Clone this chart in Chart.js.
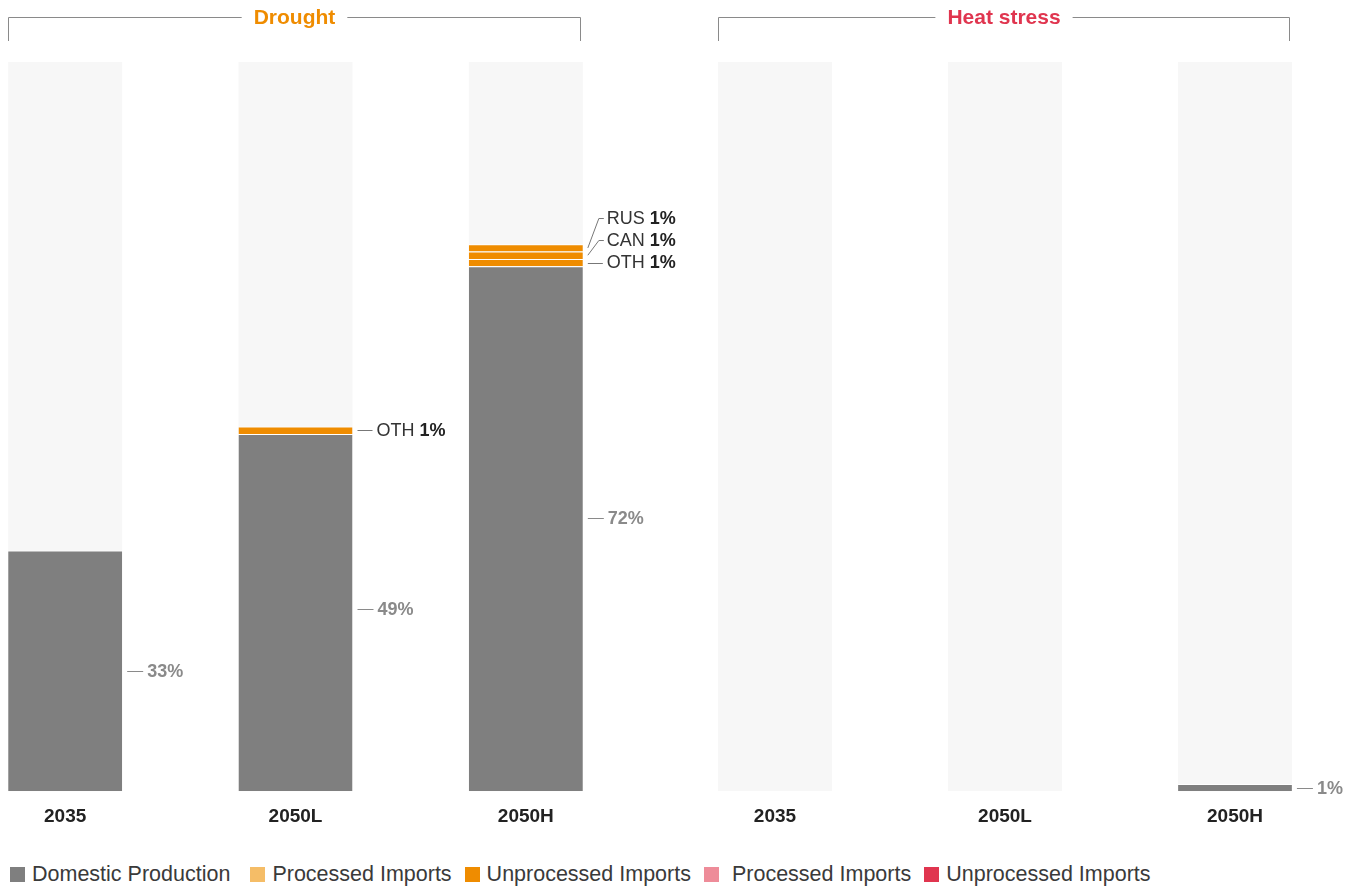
<!DOCTYPE html>
<html>
<head>
<meta charset="utf-8">
<title>Import shares</title>
<script src="https://cdn.jsdelivr.net/npm/chart.js@4.4.0/dist/chart.umd.min.js"></script>
<style>
  body {
    margin: 0;
    background: #fff;
    width: 1362px;
    height: 886px;
    overflow: hidden;
    position: relative;
    font-family: "Liberation Sans", Arial, sans-serif;
  }
  .chart-box { position: absolute; top: 0; height: 854px; }
  #drought-box { left: -50px; width: 751px; }
  #heat-box { left: 660px; width: 702px; }
  .legend {
    position: absolute;
    left: 10px;
    top: 862px;
    display: flex;
    font-size: 21.5px;
    color: #3a3a3a;
    white-space: nowrap;
  }
  .legend .item { display: flex; align-items: center; margin-right: 13px; }
  .legend .item:first-child { margin-right: 20px; }
  .legend i { display: inline-block; width: 15px; height: 15px; margin-right: 7px; }
  .legend .item:nth-child(4) i { margin-right: 13px; }
</style>
</head>
<body>
<div class="chart-box" id="drought-box"><canvas id="drought"></canvas></div>
<div class="chart-box" id="heat-box"><canvas id="heat"></canvas></div>
<div class="legend" id="legend"></div>

<script>
/* eslint no-undef: "error" */
/*global Chart */

// DATA (shares of supply, %)

const categories = ['2035', '2050L', '2050H'];
const fullShare = [100, 100, 100];

const droughtDomestic = [33, 49, 72];
const droughtProcessed = [0, 0, 0];
const droughtUnprocOTH = [0, 1, 1];
const droughtUnprocCAN = [0, 0, 1];
const droughtUnprocRUS = [0, 0, 1];

const heatDomestic = [0, 0, 1];
const heatProcessed = [0, 0, 0];
const heatUnprocessed = [0, 0, 0];

// COLOURS

const GREY = '#7f7f7f';
const TRACK = '#f7f7f7';
const DROUGHT_LIGHT = '#f5bd67';
const DROUGHT_DARK = '#ef8c00';
const HEAT_LIGHT = '#ee8c99';
const HEAT_DARK = '#e0354f';

Chart.defaults.font.family = '"Liberation Sans", Arial, sans-serif';

// PLUGINS

// bracket with the scenario name above each group of bars
const groupBracket = {
  id: 'groupBracket',
  afterDraw(chart, args, opts) {
    const ctx = chart.ctx;
    const bars = chart.getDatasetMeta(0).data;
    const first = bars[0];
    const last = bars[bars.length - 1];
    const x0 = Math.round(first.x - first.width / 2) + 0.5;
    const x1 = Math.round(last.x + last.width / 2) - 2.5;
    const y = 17.5;
    const mid = (x0 + x1) / 2;

    ctx.save();
    ctx.font = 'bold 21px "Liberation Sans", Arial, sans-serif';
    const w = ctx.measureText(opts.title).width;
    ctx.strokeStyle = '#8a8a8a';
    ctx.lineWidth = 1;
    ctx.beginPath();
    ctx.moveTo(x0, 41);
    ctx.lineTo(x0, y);
    ctx.lineTo(mid - w / 2 - 12, y);
    ctx.moveTo(mid + w / 2 + 12, y);
    ctx.lineTo(x1, y);
    ctx.lineTo(x1, 41);
    ctx.stroke();
    ctx.fillStyle = opts.color;
    ctx.textAlign = 'center';
    ctx.textBaseline = 'middle';
    ctx.fillText(opts.title, mid, y + 1);
    ctx.restore();
  }
};

// value labels to the right of each bar segment
const sideLabels = {
  id: 'sideLabels',
  afterDatasetsDraw(chart) {
    const ctx = chart.ctx;
    ctx.save();
    ctx.lineWidth = 1;
    ctx.textBaseline = 'middle';
    chart.data.labels.forEach(function (label, i) {
      // top of the whole stack in this column
      let stackTop = Infinity;
      chart.data.datasets.forEach(function (ds, di) {
        if (ds.tag === undefined || !ds.data[i]) return;
        stackTop = Math.min(stackTop, chart.getDatasetMeta(di).data[i].y);
      });

      let lastY = Infinity;
      chart.data.datasets.forEach(function (ds, di) {
        if (ds.tag === undefined) return;
        const v = ds.data[i];
        if (!v) return;
        const bar = chart.getDatasetMeta(di).data[i];
        const right = bar.x + bar.width / 2;

        if (ds.tag === '') {
          // domestic share: grey bold value, centred on the stack
          const y = Math.round((stackTop + bar.base) / 2) + 0.5;
          ctx.strokeStyle = '#8a8a8a';
          ctx.beginPath();
          ctx.moveTo(right + 5, y);
          ctx.lineTo(right + 21, y);
          ctx.stroke();
          ctx.font = 'bold 18px "Liberation Sans", Arial, sans-serif';
          ctx.fillStyle = '#8a8a8a';
          ctx.fillText(v + '%', right + 25, y + 1);
          return;
        }

        // import origin: spread labels upwards so they don't collide
        const segY = (bar.y + bar.base) / 2;
        const labelY = Math.min(segY, lastY - 22);
        lastY = labelY;
        ctx.strokeStyle = '#777';
        ctx.beginPath();
        if (labelY === segY) {
          ctx.moveTo(right + 5, Math.round(segY) + 0.5);
          ctx.lineTo(right + 20, Math.round(segY) + 0.5);
        } else {
          ctx.moveTo(right + 5, segY);
          ctx.lineTo(right + 16, labelY);
          ctx.lineTo(right + 21, labelY);
        }
        ctx.stroke();

        ctx.font = '18px "Liberation Sans", Arial, sans-serif';
        ctx.fillStyle = '#333';
        const tagText = ds.tag + ' ';
        ctx.fillText(tagText, right + 24, labelY + 1);
        const tw = ctx.measureText(tagText).width;
        ctx.font = 'bold 18px "Liberation Sans", Arial, sans-serif';
        ctx.fillStyle = '#222';
        ctx.fillText(v + '%', right + 24 + tw, labelY + 1);
      });
    });
    ctx.restore();
  }
};

// CHARTS

function segment(label, data, color, tag) {
  return {
    label: label,
    data: data,
    backgroundColor: color,
    borderColor: '#fff',
    borderWidth: { top: 1, left: 0, right: 0, bottom: 0 },
    borderSkipped: false,
    stack: 'supply',
    grouped: false,
    order: 1,
    tag: tag,
  };
}

function makeChart(canvasId, title, titleColor, rightPad, datasets) {
  const ctx = document.getElementById(canvasId).getContext('2d');
  const track = {
    label: 'Total',
    data: fullShare,
    backgroundColor: TRACK,
    borderWidth: 0,
    stack: 'track',
    grouped: false,
    order: 2,
  };
  return new Chart(ctx, {
    type: 'bar',
    data: {
      labels: categories,
      datasets: [track].concat(datasets),
    },
    options: {
      responsive: true,
      maintainAspectRatio: false,
      animation: false,
      barPercentage: 0.495,
      categoryPercentage: 1,
      layout: { padding: { top: 62, bottom: 12, left: 0, right: rightPad } },
      plugins: {
        legend: { display: false },
        tooltip: { enabled: false },
        groupBracket: { title: title, color: titleColor },
      },
      scales: {
        x: {
          stacked: true,
          grid: { display: false, drawTicks: false },
          border: { display: false },
          ticks: {
            color: '#222',
            padding: 14,
            font: { size: 19, weight: 'bold' },
          },
        },
        y: {
          stacked: true,
          display: false,
          min: 0,
          max: 100,
        },
      },
    },
    plugins: [groupBracket, sideLabels],
  });
}

const droughtChart = makeChart('drought', 'Drought', DROUGHT_DARK, 60, [
  segment('Domestic Production', droughtDomestic, GREY, ''),
  segment('Processed Imports', droughtProcessed, DROUGHT_LIGHT, 'PRC'),
  segment('Unprocessed Imports OTH', droughtUnprocOTH, DROUGHT_DARK, 'OTH'),
  segment('Unprocessed Imports CAN', droughtUnprocCAN, DROUGHT_DARK, 'CAN'),
  segment('Unprocessed Imports RUS', droughtUnprocRUS, DROUGHT_DARK, 'RUS'),
]);

const heatChart = makeChart('heat', 'Heat stress', HEAT_DARK, 12, [
  segment('Domestic Production', heatDomestic, GREY, ''),
  segment('Processed Imports', heatProcessed, HEAT_LIGHT, 'PRC'),
  segment('Unprocessed Imports', heatUnprocessed, HEAT_DARK, 'OTH'),
]);

// LEGEND

const legendItems = [
  ['Domestic Production', GREY],
  ['Processed Imports', DROUGHT_LIGHT],
  ['Unprocessed Imports', DROUGHT_DARK],
  ['Processed Imports', HEAT_LIGHT],
  ['Unprocessed Imports', HEAT_DARK],
];

const legend = document.getElementById('legend');
legendItems.forEach(function (item) {
  const el = document.createElement('span');
  el.className = 'item';
  el.innerHTML = '<i style="background:' + item[1] + '"></i>' + item[0];
  legend.appendChild(el);
});
</script>
</body>
</html>
